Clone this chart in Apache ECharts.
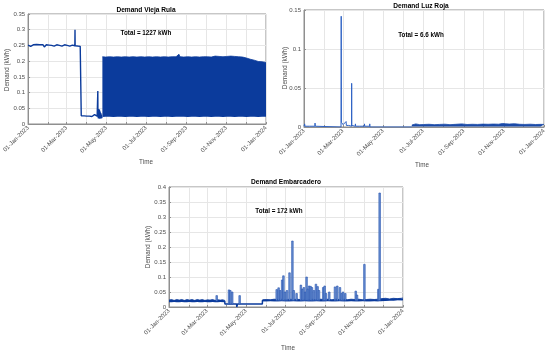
<!DOCTYPE html>
<html>
<head>
<meta charset="utf-8">
<script src="https://cdn.jsdelivr.net/npm/echarts@6/dist/echarts.min.js"></script>
<style>html,body{margin:0;padding:0;background:#fff}#c{width:550px;height:354px}</style>
</head>
<body>
<div id="c"></div>
<script>
// ---------- DATA (day offsets from 01-Jan-2023, values in kWh) ----------
const monthNames = ['Jan','Feb','Mar','Apr','May','Jun','Jul','Aug','Sep','Oct','Nov','Dec'];
const titles = ['Demand Vieja Rula', 'Demand Luz Roja', 'Demand Embarcadero'];
const totals = ['Total = 1227 kWh', 'Total = 6.6 kWh', 'Total = 172 kWh'];
const yMax = [0.35, 0.15, 0.4];

// Vieja Rula: line part [day, value]
const viejaLine = [[0,0.251],[1,0.249],[3,0.252],[4,0.247],[6,0.250],[8,0.252],[9,0.246],[11,0.250],[13,0.253],[14,0.248],
 [16,0.250],[18,0.252],[19,0.246],[21,0.249],[23,0.252],[25,0.245],[26,0.250],[28,0.252],[30,0.248],[32,0.251],[34,0.247],
 [36,0.250],[38,0.252],[40,0.248],[42,0.250],[44,0.252],[46,0.247],[48,0.250],[50,0.251],[52,0.248],[54,0.250],[56,0.252],
 [58,0.248],[60,0.250],[62,0.251],[64,0.248],[66,0.250],[68,0.251],[70,0.249],[71.8,0.249],[72,0.300],[72.2,0.249],[74,0.250],
 [76,0.248],[78,0.249],[80,0.247],[81.4,0.248],[81.6,0.026],[84,0.025],[86,0.026],[88,0.024],[90,0.025],[92,0.026],[94,0.025],
 [96,0.029],[96.3,0.025],[98,0.024],[100,0.026],[102,0.030],[102.3,0.025],[104,0.024],[106,0.025],[106.9,0.024],[107,0.105],
 [107.2,0.025],[108,0.018],[108.5,0.048],[109,0.020],[109.5,0.045],[110,0.017],[110.5,0.040],[111,0.018],[111.5,0.035],
 [112,0.018],[112.5,0.030],[113,0.020],[113.8,0.022]];
// Vieja Rula: dense band [day, low, high]
const viejaBand = [[114,.022,.214],[116,.023,.215],[119,.023,.213],[122,.022,.215],[125,.023,.214],[128,.023,.216],[131,.022,.213],
 [134,.023,.215],[137,.023,.214],[140,.022,.216],[143,.023,.213],[146,.023,.215],[149,.022,.214],[152,.023,.215],[155,.023,.213],
 [158,.022,.216],[161,.023,.214],[164,.023,.215],[167,.022,.213],[170,.023,.215],[173,.023,.214],[176,.022,.216],[179,.023,.213],
 [182,.023,.215],[185,.022,.214],[188,.023,.215],[191,.023,.213],[194,.022,.215],[197,.023,.214],[200,.023,.216],[203,.022,.213],
 [206,.023,.215],[209,.023,.214],[212,.022,.215],[215,.023,.213],[218,.023,.215],[221,.022,.214],[224,.023,.216],[227,.023,.214],
 [230,.022,.215],[231.5,.023,.222],[233,.023,.214],[236,.022,.215],[239,.023,.213],[242,.023,.215],[245,.022,.214],[248,.023,.216],
 [251,.023,.213],[254,.022,.215],[257,.023,.214],[260,.023,.215],[263,.022,.213],[266,.023,.215],[269,.023,.214],[272,.022,.216],
 [275,.023,.214],[278,.023,.215],[281,.022,.213],[284,.023,.215],[287,.023,.216],[290,.022,.214],[293,.023,.215],[296,.023,.217],
 [299,.022,.214],[302,.023,.216],[305,.023,.215],[308,.022,.218],[311,.023,.216],[314,.023,.219],[317,.022,.215],[320,.023,.217],
 [323,.023,.214],[326,.022,.218],[329,.023,.213],[332,.023,.215],[335,.022,.210],[338,.023,.212],[341,.023,.206],[344,.022,.209],
 [347,.023,.203],[350,.023,.205],[353,.022,.199],[356,.023,.204],[359,.023,.198],[362,.022,.201],[365,.023,.196]];

// Luz Roja
const luzLine = [[0,0.001],[1,0.004],[1.4,0.001],[8.6,0.001],[9,0.003],[9.4,0.001],[16.5,0.001],[16.8,0.005],[17.2,0.001],
 [20,0],[56.3,0],[56.6,0.142],[56.9,0.006],[58,0.004],[59.5,0.003],[61,0.004],[62.5,0.002],[64,0.007],[64.4,0.002],[66,0.003],
 [68,0.002],[70,0.002],[72.3,0.001],[72.5,0.056],[72.7,0.002],[75,0.001],[78,0.001],[78.2,0.004],[78.5,0.001],[84.8,0.001],
 [85,0.003],[85.3,0.001],[91.8,0.001],[92,0.004],[92.3,0.001],[99.8,0.001],[100,0.004],[100.3,0],[164,0]];
const luzBand = [[164,.0008,.0025],[170,.0008,.004],[176,.0008,.003],[182,.0008,.0032],[190,.0008,.0035],[198,.0008,.003],
 [206,.0008,.0033],[214,.0008,.0036],[222,.0008,.003],[230,.0008,.0034],[240,.0008,.004],[248,.0008,.0032],[256,.0008,.0035],
 [264,.0008,.0033],[272,.0008,.0037],[280,.0008,.0035],[288,.0008,.0038],[296,.0008,.0036],[302,.0008,.0045],[304.5,.0008,.0068],
 [306,.0008,.0042],[312,.0008,.0038],[320,.0008,.0042],[328,.0008,.0035],[336,.0008,.0033],[344,.0008,.0036],[352,.0008,.0032],
 [360,.0008,.0034],[365,.0008,.0033]];

// Embarcadero
const embLine = [[0,0.02],[87,0.02],[87.2,0.01],[105.5,0.01],[105.7,0],[106.6,0],[106.8,0.01],[145.6,0.01],[145.8,0.022],
 [330,0.022],[331,0.025],[365,0.026]];
const embBandA = [[0,.016,.023],[4,.016,.025],[8,.017,.022],[12,.016,.025],[16,.016,.023],[20,.017,.025],[24,.016,.022],
 [28,.016,.025],[32,.017,.023],[36,.016,.025],[40,.016,.022],[44,.017,.025],[48,.016,.023],[52,.016,.025],[56,.017,.022],
 [60,.016,.024],[64,.016,.023],[68,.017,.025],[72,.016,.022],[76,.016,.024],[80,.017,.023],[84,.016,.024],[87,.016,.022]];
const embBandB = [[146,.019,.024],[152,.019,.025],[158,.020,.024],[164,.019,.026],[170,.019,.025],[176,.020,.026],[182,.019,.024],
 [188,.019,.026],[194,.020,.025],[200,.019,.026],[206,.019,.024],[212,.020,.026],[218,.019,.025],[224,.019,.026],[230,.020,.024],
 [236,.019,.026],[242,.019,.025],[248,.020,.026],[254,.019,.024],[260,.019,.026],[266,.020,.025],[272,.019,.026],[278,.019,.024],
 [284,.020,.026],[290,.019,.025],[296,.019,.026],[302,.020,.024],[308,.019,.025],[314,.019,.026],[320,.020,.025],[326,.019,.026],
 [332,.022,.028],[338,.022,.029],[344,.023,.027],[350,.022,.029],[356,.023,.028],[362,.022,.029],[365,.022,.030]];
// spikes [day, base, peak]
const embSpikes = [[74.4,.02,.038],[93.6,.01,.057],[95.6,.01,.055],[98.6,.01,.05],[110.2,.01,.038],
 [168,.022,.058],[171,.022,.064],[173.5,.022,.055],[176.5,.022,.09],[178.5,.022,.104],[181,.022,.05],[184,.022,.055],
 [188,.022,.114],[192.5,.022,.22],[194.6,.022,.055],[199,.022,.045],[205.7,.022,.073],[208,.022,.06],[210.4,.022,.065],
 [212.5,.022,.05],[214.6,.022,.1],[216.6,.022,.06],[218.5,.022,.07],[220.8,.022,.069],[223,.022,.065],[226,.022,.055],
 [229.2,.022,.076],[231.8,.022,.068],[234,.022,.055],[240.6,.022,.065],[242.8,.022,.07],[245,.022,.045],[250,.022,.05],
 [258.9,.022,.067],[262.5,.022,.07],[266.7,.022,.065],[269.4,.022,.045],[271.5,.022,.05],[275,.022,.045],[291.3,.022,.053],
 [293.3,.022,.04],[304.8,.022,.142],[326.6,.022,.059],[328.6,.022,.38]];

// ---------- CHART ----------
const DAY = 86400000, T0 = Date.UTC(2023, 0, 1);
const ts = d => T0 + d * DAY;
const FONT = '"Liberation Sans", Arial, sans-serif';
const C1 = '#0b3b9c';
const AXC = '#8f8f8f', GRC = '#e6e6e6', LBC = '#4d4d4d';

const grids = [
  {left: 26, top: 14, width: 240, height: 110},
  {left: 304, top: 10, width: 240, height: 117},
  {left: 169, top: 187, width: 234, height: 120}
];

function pad(n){ return n < 10 ? '0' + n : '' + n; }
function xAxis(i){
  return {
    type: 'time', gridIndex: i, min: ts(0), max: ts(365),
    splitNumber: 12, minInterval: 28 * DAY, maxInterval: 31 * DAY,
    axisLine: {show: true, lineStyle: {color: AXC, width: 1}},
    axisTick: {show: true, inside: true, length: 2, lineStyle: {color: AXC}},
    splitLine: {show: true, lineStyle: {color: GRC, width: 1}},
    axisLabel: {
      rotate: 45, fontSize: 6, color: LBC, fontFamily: FONT, margin: 3,
      hideOverlap: false, showMinLabel: true, showMaxLabel: true,
      formatter: function (v) {
        const d = new Date(v);
        if (d.getUTCMonth() % 2) return '';
        return pad(d.getUTCDate()) + '-' + monthNames[d.getUTCMonth()] + '-' + d.getUTCFullYear();
      }
    }
  };
}
function yAxis(i){
  return {
    type: 'value', gridIndex: i, min: 0, max: yMax[i], interval: 0.05,
    axisLine: {show: true, lineStyle: {color: AXC, width: 1}},
    axisTick: {show: true, inside: true, length: 2, lineStyle: {color: AXC}},
    splitLine: {show: true, lineStyle: {color: GRC, width: 1}},
    axisLabel: {fontSize: 6, color: LBC, fontFamily: FONT, margin: 3,
      formatter: v => String(Math.round(v * 100) / 100)}
  };
}
function lineSeries(i, pts, color, w){
  return {type: 'line', xAxisIndex: i, yAxisIndex: i, showSymbol: false, symbol: 'none',
    sampling: null, animation: false, z: 3,
    lineStyle: {color: color, width: w}, data: pts.map(p => [ts(p[0]), p[1]])};
}
function bandSeries(i, band, color, name){
  return [
    {type: 'line', xAxisIndex: i, yAxisIndex: i, stack: name, symbol: 'none', animation: false, z: 2,
      lineStyle: {opacity: 0, width: 0}, data: band.map(p => [ts(p[0]), p[1]])},
    {type: 'line', xAxisIndex: i, yAxisIndex: i, stack: name, symbol: 'none', animation: false, z: 2,
      lineStyle: {color: color, width: 0.8}, areaStyle: {color: color, opacity: 1},
      data: band.map(p => [ts(p[0]), p[2] - p[1]])}
  ];
}

const series = [];
series.push(...bandSeries(0, viejaBand, C1, 'vb'));
series.push(lineSeries(0, viejaLine, C1, 1.4));
series.push(...bandSeries(1, luzBand, '#1a4aa8', 'lb'));
series.push(lineSeries(1, luzLine, '#2e62c4', 1));
series.push(...bandSeries(2, embBandA, C1, 'ea'));
series.push(...bandSeries(2, embBandB, C1, 'eb'));
series.push(lineSeries(2, embLine, C1, 1.5));
series.push({
  type: 'custom', xAxisIndex: 2, yAxisIndex: 2, animation: false, z: 4, clip: true,
  encode: {x: 0, y: [1, 2]},
  data: embSpikes.map(s => [ts(s[0]), s[1], s[2]]),
  renderItem: function (params, api) {
    const p0 = api.coord([api.value(0), api.value(1)]);
    const p1 = api.coord([api.value(0), api.value(2)]);
    return {type: 'rect', shape: {x: p0[0] - 0.8, y: p1[1], width: 1.6, height: p0[1] - p1[1]},
      style: {fill: '#6a90d2', stroke: '#2553ae', lineWidth: 0.6}};
  }
});

const graphic = [];
const titlePos = [[146, 10], [421, 6], [286, 182.5]];
const totalPos = [[146, 33], [421, 35], [279, 211]];
const timePos = [[146, 162.7], [422, 165.7], [288, 348.3]];
const ylabPos = [[7.5, 70], [285, 68], [148.5, 247]];
for (let i = 0; i < 3; i++) {
  graphic.push({type: 'text', x: titlePos[i][0], y: titlePos[i][1], z: 10,
    style: {text: titles[i], font: 'bold 6.6px ' + FONT, fill: '#000', textAlign: 'center', textVerticalAlign: 'middle'}});
  graphic.push({type: 'text', x: totalPos[i][0], y: totalPos[i][1], z: 10,
    style: {text: totals[i], font: 'bold 6.3px ' + FONT, fill: '#000', textAlign: 'center', textVerticalAlign: 'middle'}});
  graphic.push({type: 'text', x: timePos[i][0], y: timePos[i][1], z: 10,
    style: {text: 'Time', font: '6.3px ' + FONT, fill: LBC, textAlign: 'center', textVerticalAlign: 'middle'}});
  graphic.push({type: 'text', x: ylabPos[i][0], y: ylabPos[i][1], rotation: Math.PI / 2, z: 10,
    style: {text: 'Demand (kWh)', font: '6.3px ' + FONT, fill: LBC, textAlign: 'center', textVerticalAlign: 'middle'}});
}

const chart = echarts.init(document.getElementById('c'), null, {renderer: 'canvas'});
chart.setOption({
  useUTC: true,
  animation: false,
  backgroundColor: '#fff',
  grid: grids.map(g => Object.assign({show: true, borderColor: AXC, borderWidth: 1, backgroundColor: '#fff', containLabel: false}, g)),
  xAxis: [xAxis(0), xAxis(1), xAxis(2)],
  yAxis: [yAxis(0), yAxis(1), yAxis(2)],
  series: series,
  graphic: graphic
});
</script>
</body>
</html>
